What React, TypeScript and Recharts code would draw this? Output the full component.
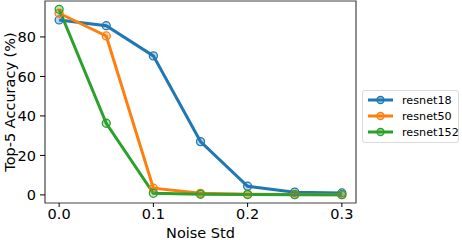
import React from 'react';
import { LineChart, Line, XAxis, YAxis, ReferenceArea } from 'recharts';

const noiseStd = [0.0, 0.05, 0.1, 0.15, 0.2, 0.25, 0.3];
const resnet18 = [88.6, 85.7, 70.4, 27.0, 4.4, 1.4, 1.0];
const resnet50 = [92.0, 80.5, 3.4, 0.8, 0.3, 0.2, 0.1];
const resnet152 = [94.0, 36.3, 0.8, 0.3, 0.2, 0.1, 0.1];
const xTicks = [0.0, 0.1, 0.2, 0.3];
const yTicks = [0, 20, 40, 60, 80];

const seriesNames = ['resnet18', 'resnet50', 'resnet152'];
const colors = ['#1f77b4', '#ff7f0e', '#2ca02c'];

const data = noiseStd.map((x, i) => ({
  x,
  resnet18: resnet18[i],
  resnet50: resnet50[i],
  resnet152: resnet152[i],
}));

const FONT = 'DejaVu Sans, sans-serif';
const X_DOMAIN: [number, number] = [-0.015, 0.315];
const Y_DOMAIN: [number, number] = [-4.1, 98.2];

const LegendBox = () => (
  <div
    style={{
      position: 'absolute',
      left: 362,
      top: 90,
      boxSizing: 'border-box',
      width: 97,
      border: '1px solid #d9d9d9',
      borderRadius: 3,
      background: '#fff',
      padding: '1px 4px 2px 4px',
      fontFamily: FONT,
      fontSize: 11.2,
      color: '#000',
    }}
  >
    {seriesNames.map((n, i) => (
      <div key={n} style={{ display: 'flex', alignItems: 'center', height: 16, whiteSpace: 'nowrap' }}>
        <svg width={27} height={12} style={{ marginRight: 8, flex: 'none' }}>
          <line x1={1} y1={6} x2={26} y2={6} stroke={colors[i]} strokeWidth={3} />
          <circle cx={13.5} cy={6} r={3.5} fill={colors[i]} fillOpacity={0.35} stroke={colors[i]} strokeWidth={1.3} />
        </svg>
        <span>{n}</span>
      </div>
    ))}
  </div>
);

export default function App() {
  return (
    <div style={{ position: 'absolute', left: 0, top: 0, width: 462, height: 240, background: '#fff' }}>
      <LineChart
        width={462}
        height={240}
        data={data}
        margin={{ top: 1, right: 106, bottom: 0, left: 0 }}
      >
        <XAxis
          dataKey="x"
          type="number"
          domain={X_DOMAIN}
          ticks={xTicks}
          tickFormatter={(v: number) => v.toFixed(1)}
          allowDataOverflow
          axisLine={false}
          tickSize={4}
          tickMargin={2}
          height={37}
          tick={{ fill: '#000', fontSize: 14.5, fontFamily: FONT }}
          tickLine={{ stroke: '#000', strokeWidth: 1 }}
          label={{ value: 'Noise Std', position: 'insideBottom', offset: 2, fill: '#000', fontSize: 14.5, fontFamily: FONT }}
        />
        <YAxis
          type="number"
          domain={Y_DOMAIN}
          ticks={yTicks}
          allowDataOverflow
          axisLine={false}
          tickSize={5}
          tickMargin={4}
          width={45}
          tick={{ fill: '#000', fontSize: 14.5, fontFamily: FONT }}
          tickLine={{ stroke: '#000', strokeWidth: 1 }}
          label={{ value: 'Top-5 Accuracy (%)', angle: -90, position: 'insideLeft', offset: 0, dx: 10, fill: '#000', fontSize: 14.5, fontFamily: FONT, style: { textAnchor: 'middle' } }}
        />
        <ReferenceArea
          x1={X_DOMAIN[0]}
          x2={X_DOMAIN[1]}
          y1={Y_DOMAIN[0]}
          y2={Y_DOMAIN[1]}
          fill="none"
          stroke="#444"
          strokeWidth={1.2}
          ifOverflow="visible"
        />
        {seriesNames.map((n, i) => (
          <Line
            key={n}
            dataKey={n}
            stroke={colors[i]}
            strokeWidth={3}
            isAnimationActive={false}
            dot={{ r: 4, fill: colors[i], fillOpacity: 0.3, stroke: colors[i], strokeWidth: 1.3 }}
            activeDot={false}
          />
        ))}
      </LineChart>
      <LegendBox />
    </div>
  );
}
